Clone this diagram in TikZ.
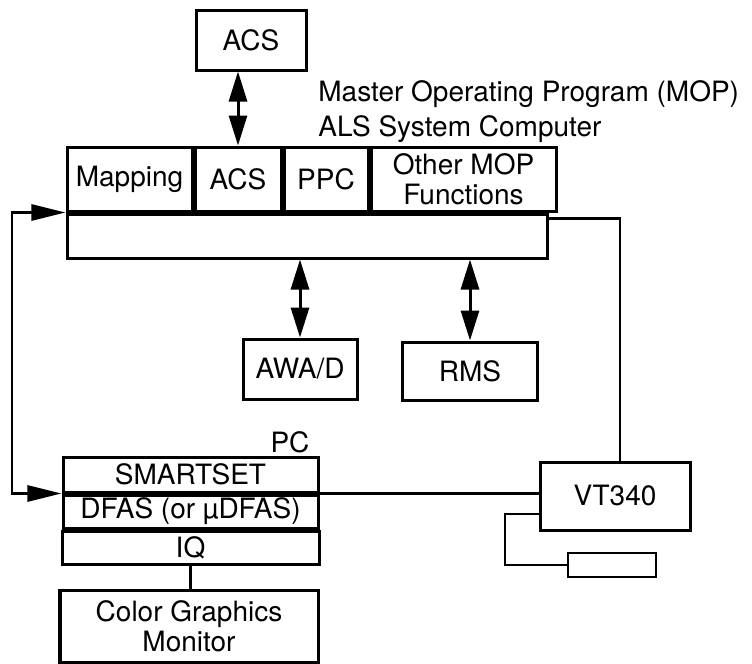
\documentclass[tikz,border=0pt]{standalone}
\usepackage{fontspec}
\setsansfont{TeX Gyre Heros}
\usetikzlibrary{arrows.meta, positioning}

\begin{document}
\begin{tikzpicture}[
    x=0.5pt, y=-0.5pt,
    font=\sffamily\fontsize{14}{15}\selectfont,
    every node/.style={inner sep=0pt},
    box/.style={draw, line width=1.5pt, align=center},
    cell/.style={box, minimum height=32pt},
    pcrow/.style={box, minimum width=127.5pt},
    lbl/.style={font=\sffamily\fontsize{14}{15}\selectfont},
    link/.style={line width=1.1pt},
    dblarr/.style={line width=1.5pt,
        {Triangle[length=15pt, width=9pt]}-{Triangle[length=15pt, width=9pt]}},
    inarr/.style={line width=1.3pt,
        {Triangle[length=17pt, width=8pt]}-{Triangle[length=17pt, width=8pt]}},
]
\useasboundingbox (0,0) rectangle (752,664);

% ============ MOP on the ALS system computer ============
\node[box, minimum width=55pt, minimum height=30pt] (acs) at (251,40) {ACS};

\node[cell, minimum width=62.5pt] (map) at (129.5,179) {Mapping};
\node[cell, minimum width=43pt, right=0pt of map] (acsf) {ACS};
\node[cell, minimum width=42pt, right=0pt of acsf] (ppc) {PPC};
\node[cell, minimum width=92.5pt, right=0pt of ppc] (other) {Other MOP\\Functions};
\node[box, minimum width=240pt, minimum height=22pt, anchor=north west] (bar) at (map.south west) {};

\node[lbl, anchor=base west] (mop1) at (318,102) {Master Operating Program (MOP)};
\node[lbl, anchor=base west] (mop2) at ([yshift=-17pt]mop1.base west) {ALS System Computer};

\draw[dblarr] (acsf.north) -- (acsf.north |- acs.south);

% Peripherals
\node[box, minimum width=57pt, minimum height=30pt] (awad) at (300,369) {AWA/D};
\node[box, minimum width=67.5pt, minimum height=29pt] (rms) at (470,371) {RMS};

\draw[dblarr] (awad.north |- bar.south) -- (awad.north);
\draw[dblarr] (rms.north |- bar.south) -- (rms.north);

% ============ PC ============
\node[lbl] (pclbl) at (290,442) {PC};
\node[pcrow, minimum height=17.5pt] (smart) at (190.5,474.5) {SMARTSET};
\node[pcrow, minimum height=16.5pt, below=0pt of smart] (dfas) {DFAS (or µDFAS)};
\node[pcrow, minimum height=16.5pt, minimum width=128.5pt, below=0pt of dfas] (iq) {IQ};

\node[box, minimum width=129pt, minimum height=36pt] (mon) at (189,626) {Color Graphics\\Monitor};
\draw[link, line width=1.4pt] (iq.south) -- (iq.south |- mon.north);

% Loop between MOP and PC
\coordinate (lp) at (12,350);
\draw[inarr] (map.south west) -| (lp) |- (smart.south west);

% ============ VT340 terminal ============
\node[box, minimum width=75pt, minimum height=34pt] (vt) at (615,496) {VT340};
\node[box, line width=1.3pt, minimum width=44pt, minimum height=12pt] (kbd) at (612,565) {};

\draw[link] ([yshift=-3pt]bar.north east) -| ([xshift=2.5pt]vt.north);
\draw[link] (smart.south east) -- (smart.south east -| vt.west);

\coordinate (kbc) at (505,565);
\draw[link, line width=1.3pt] ([yshift=-9pt]vt.west) -| (kbc) -- (kbd.west);

\end{tikzpicture}
\end{document}
